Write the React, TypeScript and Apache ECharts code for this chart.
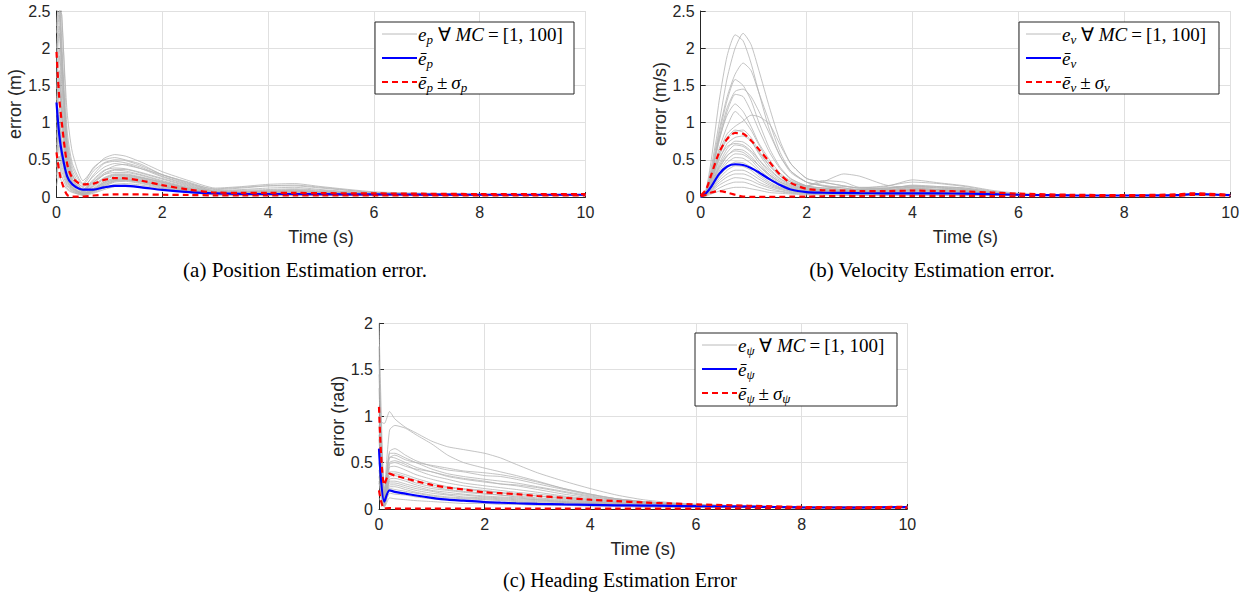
import React, { useEffect, useRef } from "react";
import * as echarts from "echarts";

// ---------- (a) Position estimation error ----------
const tA = [0, 0.05, 0.1, 0.2, 0.3, 0.5, 0.7, 0.9, 1.1, 1.3, 1.6, 2, 2.5, 3, 3.5, 4, 4.5, 5, 6, 7, 8, 9, 10];
const runsA = [
  [2.7, 2.9, 2.4, 1.15, 0.6, 0.22, 0.38, 0.52, 0.57, 0.55, 0.47, 0.34, 0.22, 0.12, 0.14, 0.17, 0.18, 0.14, 0.07, 0.05, 0.04, 0.03, 0.03],
  [2.2, 2.5, 2.45, 0.9, 0.45, 0.18, 0.4, 0.5, 0.53, 0.5, 0.44, 0.3, 0.2, 0.1, 0.12, 0.15, 0.16, 0.13, 0.06, 0.04, 0.03, 0.03, 0.03],
  [1.9, 2.3, 1.8, 0.75, 0.35, 0.12, 0.3, 0.45, 0.48, 0.46, 0.4, 0.28, 0.17, 0.09, 0.1, 0.12, 0.13, 0.1, 0.05, 0.04, 0.03, 0.03, 0.03],
  [2.5, 2.6, 2.0, 0.65, 0.3, 0.1, 0.22, 0.35, 0.42, 0.44, 0.38, 0.27, 0.16, 0.08, 0.09, 0.1, 0.11, 0.09, 0.05, 0.04, 0.03, 0.03, 0.03],
  [1.6, 2.0, 1.5, 0.55, 0.25, 0.08, 0.18, 0.3, 0.36, 0.35, 0.3, 0.22, 0.13, 0.07, 0.07, 0.08, 0.09, 0.07, 0.04, 0.03, 0.03, 0.03, 0.03],
  [1.3, 1.7, 1.25, 0.45, 0.2, 0.06, 0.15, 0.25, 0.3, 0.3, 0.26, 0.2, 0.12, 0.06, 0.06, 0.06, 0.07, 0.06, 0.04, 0.03, 0.03, 0.03, 0.03],
  [1.1, 1.4, 1.0, 0.35, 0.16, 0.05, 0.12, 0.22, 0.28, 0.28, 0.25, 0.18, 0.1, 0.05, 0.05, 0.05, 0.05, 0.05, 0.04, 0.03, 0.03, 0.03, 0.03],
  [0.9, 1.2, 0.8, 0.3, 0.14, 0.04, 0.1, 0.2, 0.26, 0.27, 0.24, 0.17, 0.1, 0.05, 0.04, 0.04, 0.04, 0.04, 0.03, 0.03, 0.03, 0.03, 0.03],
  [0.7, 1.0, 0.65, 0.25, 0.12, 0.05, 0.09, 0.18, 0.24, 0.25, 0.22, 0.15, 0.09, 0.04, 0.04, 0.04, 0.04, 0.04, 0.03, 0.03, 0.03, 0.03, 0.03],
  [0.5, 0.8, 0.5, 0.2, 0.1, 0.04, 0.08, 0.16, 0.22, 0.23, 0.2, 0.14, 0.08, 0.04, 0.03, 0.03, 0.03, 0.03, 0.03, 0.03, 0.03, 0.03, 0.03],
  [0.3, 0.55, 0.35, 0.15, 0.08, 0.03, 0.07, 0.14, 0.2, 0.21, 0.18, 0.12, 0.07, 0.03, 0.03, 0.03, 0.03, 0.03, 0.03, 0.03, 0.03, 0.03, 0.03],
  [0.15, 0.3, 0.2, 0.1, 0.06, 0.03, 0.06, 0.12, 0.17, 0.18, 0.16, 0.11, 0.06, 0.03, 0.03, 0.03, 0.03, 0.03, 0.02, 0.02, 0.02, 0.02, 0.02],
  [2.0, 2.45, 1.6, 0.6, 0.28, 0.14, 0.28, 0.4, 0.45, 0.43, 0.38, 0.3, 0.19, 0.08, 0.08, 0.09, 0.1, 0.08, 0.05, 0.04, 0.03, 0.03, 0.03],
  [1.45, 1.9, 1.3, 0.5, 0.22, 0.09, 0.2, 0.3, 0.33, 0.33, 0.29, 0.21, 0.12, 0.06, 0.06, 0.07, 0.07, 0.06, 0.04, 0.03, 0.03, 0.03, 0.03],
  [1.0, 1.5, 1.1, 0.4, 0.18, 0.07, 0.14, 0.24, 0.29, 0.29, 0.26, 0.19, 0.11, 0.05, 0.05, 0.05, 0.05, 0.05, 0.04, 0.03, 0.03, 0.03, 0.03],
  [0.8, 1.1, 0.7, 0.28, 0.13, 0.05, 0.11, 0.2, 0.25, 0.26, 0.23, 0.16, 0.09, 0.05, 0.04, 0.04, 0.04, 0.04, 0.03, 0.03, 0.03, 0.03, 0.03],
  [0.6, 0.9, 0.55, 0.22, 0.11, 0.04, 0.1, 0.19, 0.23, 0.24, 0.21, 0.15, 0.08, 0.04, 0.04, 0.04, 0.04, 0.04, 0.03, 0.03, 0.03, 0.03, 0.03],
  [0.4, 0.7, 0.42, 0.17, 0.09, 0.03, 0.08, 0.15, 0.21, 0.22, 0.19, 0.13, 0.07, 0.04, 0.03, 0.03, 0.03, 0.03, 0.03, 0.03, 0.03, 0.03, 0.03],
  [2.6, 2.55, 1.9, 0.8, 0.4, 0.16, 0.35, 0.46, 0.5, 0.49, 0.42, 0.3, 0.18, 0.11, 0.13, 0.15, 0.15, 0.12, 0.06, 0.04, 0.03, 0.03, 0.03],
  [0.25, 0.45, 0.28, 0.12, 0.07, 0.02, 0.05, 0.1, 0.14, 0.16, 0.14, 0.1, 0.06, 0.03, 0.02, 0.02, 0.02, 0.02, 0.02, 0.02, 0.02, 0.02, 0.02],
  [1.75, 2.2, 1.7, 0.7, 0.3, 0.1, 0.24, 0.36, 0.39, 0.38, 0.33, 0.25, 0.15, 0.07, 0.07, 0.08, 0.08, 0.07, 0.04, 0.03, 0.03, 0.03, 0.03],
  [1.2, 1.6, 1.15, 0.42, 0.19, 0.07, 0.16, 0.26, 0.31, 0.31, 0.27, 0.2, 0.11, 0.05, 0.05, 0.06, 0.06, 0.05, 0.04, 0.03, 0.03, 0.03, 0.03],
  [2.3, 2.7, 2.1, 0.5, 0.24, 0.09, 0.2, 0.32, 0.37, 0.37, 0.32, 0.24, 0.14, 0.07, 0.06, 0.07, 0.08, 0.07, 0.04, 0.03, 0.03, 0.03, 0.03],
  [0.55, 0.95, 0.6, 0.24, 0.12, 0.04, 0.09, 0.17, 0.22, 0.23, 0.21, 0.15, 0.08, 0.04, 0.04, 0.04, 0.04, 0.04, 0.03, 0.03, 0.03, 0.03, 0.03],
];
const meanA = [1.27, 0.85, 0.6, 0.28, 0.17, 0.1, 0.1, 0.13, 0.15, 0.15, 0.13, 0.095, 0.065, 0.048, 0.042, 0.04, 0.04, 0.038, 0.035, 0.032, 0.03, 0.03, 0.03];
const upperA = [1.95, 1.35, 1.0, 0.45, 0.26, 0.17, 0.18, 0.23, 0.255, 0.25, 0.22, 0.16, 0.1, 0.06, 0.055, 0.055, 0.055, 0.052, 0.048, 0.044, 0.04, 0.04, 0.04];
const lowerA = [0.6, 0.35, 0.2, 0.03, 0.004, 0.006, 0.02, 0.03, 0.035, 0.035, 0.035, 0.03, 0.027, 0.022, 0.02, 0.02, 0.02, 0.02, 0.02, 0.02, 0.02, 0.02, 0.02];

// ---------- (b) Velocity estimation error ----------
const tB = [0, 0.1, 0.2, 0.35, 0.5, 0.65, 0.8, 0.95, 1.1, 1.3, 1.5, 1.7, 2, 2.3, 2.7, 3, 3.5, 4, 4.5, 5, 5.5, 6, 7, 8, 9, 9.3, 10];
const runsB = [
  [0, 0.1, 0.5, 1.3, 1.9, 2.18, 2.1, 1.8, 1.4, 0.9, 0.55, 0.35, 0.2, 0.15, 0.12, 0.1, 0.12, 0.15, 0.12, 0.1, 0.06, 0.04, 0.02, 0.02, 0.02, 0.03, 0.02],
  [0, 0.08, 0.4, 1.0, 1.6, 2.0, 2.2, 2.05, 1.7, 1.2, 0.75, 0.45, 0.25, 0.2, 0.15, 0.12, 0.15, 0.2, 0.18, 0.14, 0.08, 0.04, 0.02, 0.02, 0.03, 0.04, 0.02],
  [0, 0.07, 0.35, 0.9, 1.35, 1.65, 1.8, 1.7, 1.4, 1.0, 0.6, 0.35, 0.2, 0.15, 0.1, 0.1, 0.12, 0.14, 0.13, 0.11, 0.06, 0.03, 0.02, 0.02, 0.02, 0.03, 0.02],
  [0, 0.07, 0.3, 0.85, 1.3, 1.58, 1.5, 1.3, 1.0, 0.65, 0.4, 0.25, 0.15, 0.12, 0.1, 0.09, 0.1, 0.12, 0.1, 0.09, 0.05, 0.03, 0.02, 0.02, 0.02, 0.03, 0.02],
  [0, 0.06, 0.3, 0.8, 1.2, 1.42, 1.45, 1.35, 1.15, 0.85, 0.55, 0.33, 0.2, 0.16, 0.12, 0.1, 0.1, 0.13, 0.12, 0.1, 0.06, 0.03, 0.02, 0.02, 0.02, 0.03, 0.02],
  [0, 0.06, 0.28, 0.75, 1.15, 1.38, 1.35, 1.15, 0.9, 0.6, 0.38, 0.24, 0.15, 0.12, 0.09, 0.08, 0.09, 0.1, 0.09, 0.08, 0.05, 0.03, 0.02, 0.02, 0.02, 0.03, 0.02],
  [0, 0.05, 0.25, 0.65, 0.95, 1.15, 1.05, 0.9, 0.7, 0.45, 0.3, 0.2, 0.13, 0.1, 0.08, 0.07, 0.08, 0.09, 0.08, 0.07, 0.05, 0.03, 0.02, 0.02, 0.02, 0.03, 0.02],
  [0, 0.05, 0.25, 0.6, 0.85, 0.95, 1.02, 1.1, 1.08, 0.98, 0.7, 0.45, 0.25, 0.2, 0.15, 0.12, 0.12, 0.15, 0.14, 0.12, 0.07, 0.04, 0.02, 0.02, 0.02, 0.03, 0.02],
  [0, 0.05, 0.22, 0.55, 0.78, 0.88, 0.9, 0.8, 0.62, 0.42, 0.28, 0.2, 0.15, 0.2, 0.31, 0.28, 0.16, 0.12, 0.1, 0.08, 0.05, 0.03, 0.02, 0.02, 0.02, 0.03, 0.02],
  [0, 0.04, 0.2, 0.5, 0.72, 0.8, 0.82, 0.75, 0.58, 0.38, 0.25, 0.18, 0.12, 0.1, 0.08, 0.07, 0.08, 0.1, 0.09, 0.08, 0.05, 0.03, 0.02, 0.02, 0.02, 0.03, 0.02],
  [0, 0.04, 0.18, 0.45, 0.65, 0.75, 0.74, 0.66, 0.5, 0.33, 0.22, 0.16, 0.11, 0.09, 0.07, 0.06, 0.07, 0.08, 0.08, 0.07, 0.04, 0.03, 0.02, 0.02, 0.02, 0.03, 0.02],
  [0, 0.04, 0.17, 0.42, 0.6, 0.7, 0.68, 0.6, 0.46, 0.3, 0.2, 0.15, 0.1, 0.08, 0.07, 0.06, 0.06, 0.07, 0.07, 0.06, 0.04, 0.02, 0.02, 0.02, 0.02, 0.03, 0.02],
  [0, 0.03, 0.15, 0.38, 0.55, 0.64, 0.63, 0.55, 0.42, 0.28, 0.18, 0.13, 0.09, 0.07, 0.06, 0.06, 0.06, 0.07, 0.06, 0.05, 0.04, 0.02, 0.02, 0.02, 0.02, 0.03, 0.02],
  [0, 0.03, 0.14, 0.35, 0.5, 0.58, 0.57, 0.5, 0.38, 0.25, 0.17, 0.12, 0.08, 0.07, 0.06, 0.05, 0.05, 0.06, 0.06, 0.05, 0.03, 0.02, 0.02, 0.02, 0.02, 0.03, 0.02],
  [0, 0.03, 0.13, 0.32, 0.46, 0.53, 0.52, 0.45, 0.35, 0.23, 0.15, 0.11, 0.08, 0.06, 0.05, 0.05, 0.05, 0.06, 0.05, 0.05, 0.03, 0.02, 0.02, 0.02, 0.02, 0.03, 0.02],
  [0, 0.03, 0.12, 0.28, 0.4, 0.47, 0.46, 0.4, 0.3, 0.2, 0.13, 0.1, 0.07, 0.06, 0.05, 0.04, 0.05, 0.05, 0.05, 0.04, 0.03, 0.02, 0.02, 0.02, 0.02, 0.03, 0.02],
  [0, 0.02, 0.1, 0.25, 0.36, 0.42, 0.41, 0.36, 0.27, 0.18, 0.12, 0.09, 0.06, 0.05, 0.04, 0.04, 0.04, 0.05, 0.04, 0.04, 0.03, 0.02, 0.02, 0.02, 0.02, 0.03, 0.02],
  [0, 0.02, 0.09, 0.22, 0.31, 0.36, 0.36, 0.31, 0.24, 0.16, 0.11, 0.08, 0.06, 0.05, 0.04, 0.04, 0.04, 0.04, 0.04, 0.03, 0.02, 0.02, 0.02, 0.02, 0.02, 0.03, 0.02],
  [0, 0.02, 0.08, 0.19, 0.27, 0.31, 0.31, 0.27, 0.2, 0.14, 0.1, 0.07, 0.05, 0.04, 0.04, 0.03, 0.03, 0.04, 0.03, 0.03, 0.02, 0.02, 0.02, 0.02, 0.02, 0.03, 0.02],
  [0, 0.02, 0.07, 0.16, 0.22, 0.26, 0.25, 0.22, 0.17, 0.12, 0.08, 0.06, 0.05, 0.04, 0.03, 0.03, 0.03, 0.03, 0.03, 0.03, 0.02, 0.02, 0.02, 0.02, 0.02, 0.03, 0.02],
  [0, 0.02, 0.06, 0.12, 0.17, 0.2, 0.2, 0.17, 0.13, 0.09, 0.07, 0.05, 0.04, 0.03, 0.03, 0.03, 0.03, 0.03, 0.03, 0.02, 0.02, 0.02, 0.02, 0.02, 0.02, 0.03, 0.02],
  [0, 0.01, 0.04, 0.08, 0.11, 0.13, 0.13, 0.11, 0.09, 0.06, 0.05, 0.04, 0.03, 0.03, 0.02, 0.02, 0.02, 0.02, 0.02, 0.02, 0.02, 0.02, 0.02, 0.02, 0.02, 0.03, 0.02],
  [0, 0.06, 0.3, 0.78, 1.1, 1.25, 1.15, 0.95, 0.72, 0.5, 0.32, 0.22, 0.15, 0.22, 0.2, 0.13, 0.14, 0.23, 0.19, 0.15, 0.09, 0.05, 0.02, 0.02, 0.02, 0.03, 0.02],
  [0, 0.05, 0.24, 0.58, 0.8, 0.9, 0.87, 0.76, 0.6, 0.42, 0.28, 0.2, 0.14, 0.12, 0.14, 0.12, 0.11, 0.16, 0.14, 0.12, 0.07, 0.03, 0.02, 0.02, 0.02, 0.03, 0.02],
  [0, 0.04, 0.21, 0.52, 0.68, 0.72, 0.7, 0.62, 0.5, 0.36, 0.24, 0.17, 0.12, 0.1, 0.09, 0.08, 0.09, 0.11, 0.1, 0.09, 0.06, 0.03, 0.02, 0.02, 0.02, 0.03, 0.02],
  [0, 0.03, 0.16, 0.4, 0.56, 0.62, 0.6, 0.52, 0.42, 0.3, 0.2, 0.14, 0.1, 0.09, 0.08, 0.07, 0.07, 0.09, 0.08, 0.07, 0.05, 0.03, 0.02, 0.02, 0.02, 0.03, 0.02],
];
const meanB = [0, 0.05, 0.14, 0.31, 0.41, 0.44, 0.43, 0.39, 0.33, 0.24, 0.16, 0.1, 0.065, 0.058, 0.055, 0.052, 0.05, 0.05, 0.048, 0.045, 0.038, 0.03, 0.022, 0.02, 0.025, 0.04, 0.025];
const upperB = [0.02, 0.1, 0.3, 0.6, 0.78, 0.86, 0.85, 0.76, 0.64, 0.47, 0.3, 0.19, 0.11, 0.09, 0.085, 0.08, 0.08, 0.085, 0.08, 0.075, 0.06, 0.045, 0.03, 0.025, 0.035, 0.05, 0.03];
const lowerB = [0.01, 0.03, 0.06, 0.08, 0.06, 0.03, 0.006, 0.003, 0.003, 0.003, 0.003, 0.004, 0.005, 0.01, 0.015, 0.012, 0.015, 0.015, 0.015, 0.015, 0.012, 0.01, 0.01, 0.012, 0.015, 0.03, 0.015];

// ---------- (c) Heading estimation error ----------
const tC = [0, 0.1, 0.2, 0.3, 0.5, 0.7, 1, 1.3, 1.6, 2, 2.3, 2.6, 3, 3.5, 4, 4.5, 5, 5.5, 6, 7, 8, 9, 10];
const runsC = [
  [0.95, 0.92, 1.05, 0.97, 0.88, 0.82, 0.73, 0.67, 0.64, 0.6, 0.55, 0.48, 0.39, 0.3, 0.22, 0.15, 0.1, 0.07, 0.05, 0.03, 0.02, 0.02, 0.02],
  [2.0, 0.2, 0.85, 0.9, 0.87, 0.8, 0.7, 0.58, 0.5, 0.44, 0.4, 0.36, 0.3, 0.22, 0.16, 0.11, 0.08, 0.06, 0.05, 0.03, 0.02, 0.02, 0.02],
  [1.6, 0.15, 0.62, 0.65, 0.58, 0.52, 0.46, 0.42, 0.4, 0.36, 0.35, 0.32, 0.27, 0.21, 0.15, 0.11, 0.08, 0.06, 0.04, 0.03, 0.02, 0.02, 0.02],
  [1.3, 0.12, 0.6, 0.6, 0.55, 0.5, 0.43, 0.38, 0.35, 0.32, 0.3, 0.28, 0.24, 0.19, 0.14, 0.1, 0.07, 0.05, 0.04, 0.03, 0.02, 0.02, 0.02],
  [1.1, 0.1, 0.56, 0.55, 0.5, 0.45, 0.4, 0.36, 0.33, 0.3, 0.27, 0.25, 0.21, 0.16, 0.12, 0.09, 0.07, 0.05, 0.04, 0.03, 0.02, 0.02, 0.02],
  [0.9, 0.08, 0.5, 0.52, 0.48, 0.42, 0.36, 0.32, 0.28, 0.25, 0.23, 0.21, 0.18, 0.14, 0.11, 0.08, 0.06, 0.05, 0.04, 0.03, 0.02, 0.02, 0.02],
  [0.75, 0.07, 0.45, 0.46, 0.42, 0.37, 0.32, 0.28, 0.25, 0.22, 0.2, 0.18, 0.16, 0.13, 0.1, 0.07, 0.05, 0.04, 0.03, 0.03, 0.02, 0.02, 0.02],
  [0.6, 0.06, 0.4, 0.4, 0.37, 0.33, 0.28, 0.24, 0.22, 0.2, 0.18, 0.16, 0.14, 0.11, 0.09, 0.07, 0.05, 0.04, 0.03, 0.03, 0.02, 0.02, 0.02],
  [0.5, 0.05, 0.35, 0.36, 0.32, 0.28, 0.24, 0.21, 0.19, 0.17, 0.15, 0.14, 0.12, 0.1, 0.08, 0.06, 0.05, 0.04, 0.03, 0.02, 0.02, 0.02, 0.02],
  [0.42, 0.05, 0.3, 0.3, 0.27, 0.24, 0.2, 0.18, 0.16, 0.14, 0.13, 0.12, 0.1, 0.08, 0.07, 0.05, 0.04, 0.03, 0.03, 0.02, 0.02, 0.02, 0.02],
  [0.35, 0.04, 0.26, 0.26, 0.23, 0.2, 0.17, 0.15, 0.13, 0.12, 0.11, 0.1, 0.09, 0.07, 0.06, 0.05, 0.04, 0.03, 0.03, 0.02, 0.02, 0.02, 0.02],
  [0.28, 0.03, 0.22, 0.21, 0.19, 0.17, 0.14, 0.12, 0.11, 0.1, 0.09, 0.08, 0.07, 0.06, 0.05, 0.04, 0.03, 0.03, 0.02, 0.02, 0.02, 0.02, 0.02],
  [0.2, 0.03, 0.17, 0.16, 0.15, 0.13, 0.11, 0.1, 0.09, 0.08, 0.07, 0.07, 0.06, 0.05, 0.04, 0.03, 0.03, 0.02, 0.02, 0.02, 0.02, 0.02, 0.02],
  [0.12, 0.02, 0.12, 0.11, 0.1, 0.09, 0.08, 0.07, 0.06, 0.06, 0.05, 0.05, 0.04, 0.04, 0.03, 0.03, 0.02, 0.02, 0.02, 0.02, 0.01, 0.01, 0.02],
  [1.45, 0.18, 0.55, 0.58, 0.53, 0.5, 0.47, 0.44, 0.41, 0.39, 0.37, 0.34, 0.29, 0.22, 0.16, 0.11, 0.08, 0.06, 0.04, 0.03, 0.02, 0.02, 0.02],
  [1.0, 0.1, 0.48, 0.5, 0.46, 0.43, 0.4, 0.35, 0.32, 0.29, 0.27, 0.26, 0.23, 0.18, 0.13, 0.1, 0.07, 0.05, 0.04, 0.03, 0.02, 0.02, 0.02],
  [0.8, 0.06, 0.38, 0.38, 0.35, 0.31, 0.26, 0.23, 0.21, 0.19, 0.17, 0.16, 0.14, 0.12, 0.1, 0.08, 0.06, 0.05, 0.04, 0.03, 0.02, 0.02, 0.02],
  [0.65, 0.04, 0.32, 0.33, 0.3, 0.26, 0.22, 0.2, 0.18, 0.16, 0.15, 0.13, 0.11, 0.09, 0.08, 0.06, 0.05, 0.04, 0.03, 0.02, 0.02, 0.02, 0.02],
  [1.75, 0.14, 0.28, 0.28, 0.25, 0.22, 0.19, 0.16, 0.15, 0.13, 0.12, 0.11, 0.1, 0.08, 0.07, 0.06, 0.05, 0.04, 0.03, 0.02, 0.02, 0.02, 0.02],
  [0.3, 0.03, 0.24, 0.24, 0.21, 0.18, 0.15, 0.13, 0.12, 0.11, 0.1, 0.09, 0.08, 0.07, 0.06, 0.05, 0.04, 0.03, 0.03, 0.02, 0.02, 0.02, 0.02],
];
const meanC = [0.65, 0.08, 0.2, 0.185, 0.165, 0.145, 0.12, 0.1, 0.09, 0.075, 0.068, 0.062, 0.056, 0.05, 0.045, 0.04, 0.037, 0.034, 0.03, 0.025, 0.018, 0.015, 0.02];
const upperC = [1.1, 0.26, 0.38, 0.36, 0.33, 0.3, 0.26, 0.23, 0.21, 0.18, 0.17, 0.16, 0.14, 0.12, 0.1, 0.085, 0.07, 0.06, 0.05, 0.035, 0.022, 0.018, 0.025];
const lowerC = [0.2, 0.004, 0.01, 0.005, 0.004, 0.004, 0.004, 0.004, 0.004, 0.004, 0.004, 0.004, 0.004, 0.004, 0.004, 0.004, 0.004, 0.004, 0.005, 0.008, 0.008, 0.008, 0.012];

// ---------- text ----------
const xName = "Time (s)";
const yNames = ["error (m)", "error (m/s)", "error (rad)"];
const captions = ["(a) Position Estimation error.", "(b) Velocity Estimation error.", "(c) Heading Estimation Error"];
const subs = ["p", "v", "ψ"];

const SANS = "Liberation Sans";
const SERIF = "Liberation Serif";
const GREY = "#b4b4b4";
const AXIS = "#262626";

const zip = (t: number[], v: number[]) => t.map((x, i) => [x, v[i]]);

function panelSeries(idx: number, t: number[], runs: number[][], mean: number[], up: number[], lo: number[]) {
  const s: any[] = [];
  runs.forEach((r) =>
    s.push({
      type: "line", xAxisIndex: idx, yAxisIndex: idx, data: zip(t, r), symbol: "none", showSymbol: false,
      smooth: 0.2, silent: true, z: 2, lineStyle: { color: GREY, width: 0.8 },
    })
  );
  s.push({
    type: "line", xAxisIndex: idx, yAxisIndex: idx, data: zip(t, mean), symbol: "none", showSymbol: false,
    smooth: 0.3, silent: true, z: 3, lineStyle: { color: "#0000ff", width: 2.2 },
  });
  [up, lo].forEach((d) =>
    s.push({
      type: "line", xAxisIndex: idx, yAxisIndex: idx, data: zip(t, d), symbol: "none", showSymbol: false,
      smooth: 0.3, silent: true, z: 4, lineStyle: { color: "#ff0000", width: 2.2, type: [6, 4] },
    })
  );
  return s;
}

const nameStyle = { color: AXIS, fontSize: 18, fontFamily: SANS };

function xAxis(idx: number) {
  return {
    type: "value", gridIndex: idx, min: 0, max: 10, interval: 2,
    name: xName, nameLocation: "middle", nameGap: 31,
    nameTextStyle: nameStyle,
    axisLine: { show: true, onZero: false, lineStyle: { color: AXIS, width: 1 } },
    axisTick: { show: true, inside: true, length: 5, lineStyle: { color: AXIS } },
    axisLabel: { color: AXIS, fontSize: 16, fontFamily: SANS, margin: 7 },
    splitLine: { show: true, lineStyle: { color: "#e0e0e0", width: 1 } },
  };
}
function yAxis(idx: number, max: number) {
  return {
    type: "value", gridIndex: idx, min: 0, max, interval: 0.5,
    name: yNames[idx], nameLocation: "middle", nameGap: 31,
    nameTextStyle: nameStyle,
    axisLine: { show: true, onZero: false, lineStyle: { color: AXIS, width: 1 } },
    axisTick: { show: true, inside: true, length: 5, lineStyle: { color: AXIS } },
    axisLabel: { color: AXIS, fontSize: 16, fontFamily: SANS, margin: 6 },
    splitLine: { show: true, lineStyle: { color: "#e0e0e0", width: 1 } },
  };
}

const rich = {
  i: { fontFamily: SERIF, fontStyle: "italic", fontSize: 19, lineHeight: 24, fill: "#000" },
  r: { fontFamily: SERIF, fontSize: 19, lineHeight: 24, fill: "#000" },
  q: { fontFamily: SERIF, fontSize: 19, lineHeight: 24, fill: "#000", padding: [0, 4, 0, 4] },
  s: { fontFamily: SERIF, fontStyle: "italic", fontSize: 13, lineHeight: 13, verticalAlign: "bottom", fill: "#000" },
};

function legend(x: number, y: number, w: number, h: number, sub: string) {
  const rows = [
    `{i|e}{s|${sub}}{r| ∀ }{i|MC}{q|=}{r|[1, 100]}`,
    `{i|ē}{s|${sub}}`,
    `{i|ē}{s|${sub}}{q|±}{i|σ}{s|${sub}}`,
  ];
  const els: any[] = [
    { type: "rect", shape: { x, y, width: w, height: h }, style: { fill: "#fff", stroke: AXIS, lineWidth: 1 }, z: 10 },
  ];
  const styles = [
    { stroke: "#a8a8a8", lineWidth: 0.8 },
    { stroke: "#0000ff", lineWidth: 2.2 },
    { stroke: "#ff0000", lineWidth: 2.2, lineDash: [6, 4] },
  ];
  rows.forEach((txt, k) => {
    const cy = y + 12 + k * 24;
    els.push({ type: "line", shape: { x1: x + 7, y1: cy, x2: x + 42, y2: cy }, style: styles[k], z: 11 });
    els.push({ type: "text", x: x + 43, y: cy, style: { text: txt, rich, verticalAlign: "middle", align: "left" }, z: 11 });
  });
  return els;
}

const grids = [
  { left: 56.5, top: 11, width: 529, height: 186 },
  { left: 700.7, top: 11, width: 529.5, height: 186 },
  { left: 379, top: 323.3, width: 528.3, height: 185.7 },
];

export default function App() {
  const ref = useRef<HTMLDivElement>(null);
  useEffect(() => {
    document.body.style.margin = "0";
    const chart = echarts.init(ref.current!, null, { renderer: "svg" });
    const captionEls = [
      { x: 305, y: 270, text: captions[0], size: 21 },
      { x: 932, y: 270, text: captions[1], size: 21 },
      { x: 620, y: 580, text: captions[2], size: 20 },
    ].map((c) => ({
      type: "text", x: c.x, y: c.y, z: 10,
      style: { text: c.text, font: `${c.size}px ${SERIF}`, fill: "#000", align: "center", verticalAlign: "middle" },
    }));
    chart.setOption({
      animation: false,
      backgroundColor: "#fff",
      grid: grids,
      xAxis: [xAxis(0), xAxis(1), xAxis(2)],
      yAxis: [yAxis(0, 2.5), yAxis(1, 2.5), yAxis(2, 2)],
      series: [
        ...panelSeries(0, tA, runsA, meanA, upperA, lowerA),
        ...panelSeries(1, tB, runsB, meanB, upperB, lowerB),
        ...panelSeries(2, tC, runsC, meanC, upperC, lowerC),
      ],
      graphic: [
        ...legend(375, 22, 199, 72, subs[0]),
        ...legend(1019, 22, 200, 72, subs[1]),
        ...legend(695, 333, 202, 73, subs[2]),
        ...captionEls,
      ],
    });
    return () => chart.dispose();
  }, []);
  return <div ref={ref} style={{ width: 1252, height: 593 }} />;
}
